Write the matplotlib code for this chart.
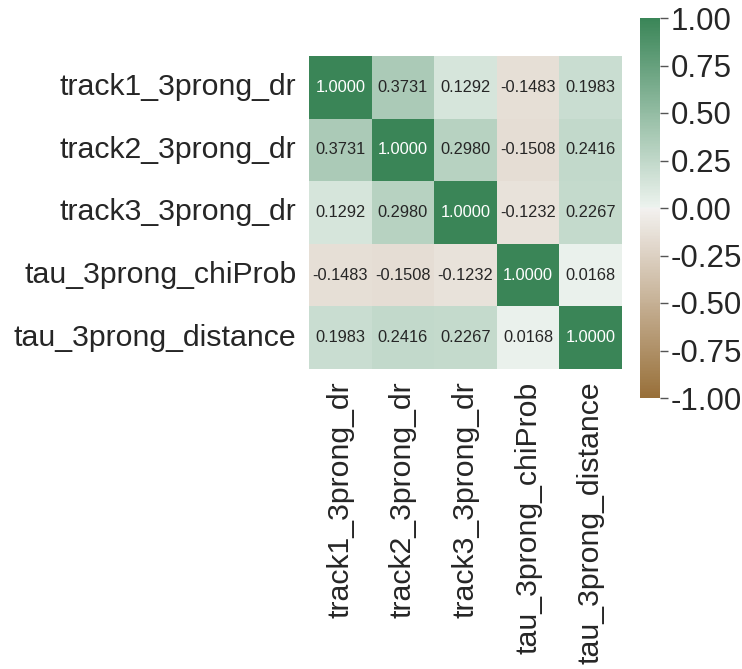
import numpy as np
import pandas as pd
import matplotlib
matplotlib.use("Agg")
import matplotlib.pyplot as plt
import seaborn as sns

# Nombres de las variables y matriz de correlación
labels = ["track1_3prong_dr", "track2_3prong_dr", "track3_3prong_dr",
          "tau_3prong_chiProb", "tau_3prong_distance"]
row1 = [1.0000, 0.3731, 0.1292, -0.1483, 0.1983]
row2 = [0.3731, 1.0000, 0.2980, -0.1508, 0.2416]
row3 = [0.1292, 0.2980, 1.0000, -0.1232, 0.2267]
row4 = [-0.1483, -0.1508, -0.1232, 1.0000, 0.0168]
row5 = [0.1983, 0.2416, 0.2267, 0.0168, 1.0000]
cbar_ticks = [-1, -0.75, -0.5, -0.25, 0, 0.25, 0.5, 0.75, 1]

corr = pd.DataFrame([row1, row2, row3, row4, row5], index=labels, columns=labels)

sns.set_style("ticks")
plt.rcParams['font.family'] = ['Liberation Sans', 'DejaVu Sans']

fig = plt.figure(figsize=(7.42, 6.69), dpi=100)
W, H = 742, 669
ax = fig.add_axes([309 / W, (H - 369) / H, 313 / W, 313 / H])
cax = fig.add_axes([640 / W, (H - 398) / H, 20 / W, 380 / H])

cmap = sns.diverging_palette(50, 500, n=500, as_cmap=True)
sns.heatmap(corr, vmin=-1, vmax=1, center=0, cmap=cmap, annot=True, fmt=".4f",
            annot_kws={"size": 11.8}, ax=ax, cbar_ax=cax)

ax.tick_params(axis='both', length=0, labelsize=21.8, pad=9)
ax.set_xticklabels(labels, rotation=90)
ax.set_yticklabels(labels, rotation=0)

cax.tick_params(labelsize=22.5, length=6, width=1, color="#555555", pad=2)
cax.set_yticks(cbar_ticks)
cax.set_yticklabels(["%.2f" % v for v in cbar_ticks])
for s in cax.spines.values():
    s.set_visible(False)

fig.savefig("out.png", dpi=100)
